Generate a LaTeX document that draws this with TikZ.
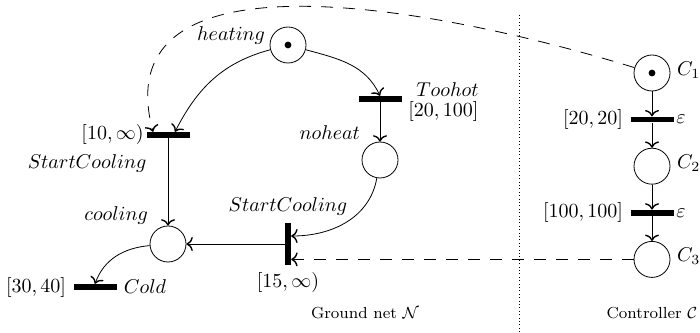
\documentclass[tikz,border=0pt]{standalone}
\usetikzlibrary{positioning, arrows.meta}
\tikzset{
    % Place style
    place/.style={
        circle,
        draw,
        minimum size=18pt,
        inner sep=0pt
    },
    % Transition style
    trans/.style={
        rectangle,
        fill=black,
        minimum width=21.5pt,
        minimum height=2.8pt,
        inner sep=0pt
    },
    % Vertical transition
    vtrans/.style={
        trans,
        minimum width=2.8pt,
        minimum height=21pt
    },
    % Flow arc style
    flow/.style={
        ->,
        >={Computer Modern Rightarrow[length=3.2pt, width=7pt, line width=0.7pt]}
    },
    % Controller link style
    ctrl/.style={flow, dash pattern=on 6pt off 5pt},
    % Net caption
    caption/.style={font=\footnotesize}
}
\begin{document}
\begin{tikzpicture}[x=0.5pt, y=0.5pt, node distance=12.5pt]
    \useasboundingbox (0,0) rectangle (700,332);

    % Ground net
    \node (heating) [place, label={[anchor=east]150:$heating$}] at (288,287) {};
    \node (start1) [trans, label={[inner sep=1pt]left:$[10,\infty)$},
        label={[inner sep=1pt, xshift=-8pt, yshift=-7pt]below left:$StartCooling$}] at (168,197) {};
    \node (toohot) [trans, label={[anchor=south west, inner sep=1pt, xshift=6pt]0:$Toohot$},
        label={[anchor=north west, inner sep=1pt, xshift=2pt]0:$[20,100]$}] at (380,233) {};
    \node (noheat) [place, label={above left:$noheat$}] at (380,172) {};
    \node (cooling) [place, label={above left:$cooling$}] at (168,88) {};
    \node (start2) [vtrans, label={above:$StartCooling$}, label={below:$[15,\infty)$}] at (288,88) {};
    \node (cold) [trans, label={left:$[30,40]$}, label={right:$Cold$}] at (95,45) {};
    \fill (heating) circle (1.7pt);

    \draw [flow] (heating) to[out=195, in=63] ([xshift=3.5pt]start1.north);
    \draw [flow] (heating) to[out=-15, in=115] (toohot.north);
    \draw [flow] (toohot) -- (noheat);
    \draw [flow] (noheat) to[out=-100, in=0] ([yshift=4pt]start2.east);
    \draw [flow] (start1) -- (cooling);
    \draw [flow] (start2) -- (cooling);
    \draw [flow] (cooling) to[out=185, in=70] (cold.north);

    % Controller
    \node (c1) [place, label={[anchor=west]10:$C_1$}] at (652,259) {};
    \node (eps1) [trans, below=of c1, label={left:$[20,20]$},
        label={[inner sep=1pt]right:$\varepsilon$}] {};
    \node (c2) [place, below=of eps1, label={[anchor=west]10:$C_2$}] {};
    \node (eps2) [trans, below=of c2, label={left:$[100,100]$},
        label={[inner sep=1pt]right:$\varepsilon$}] {};
    \node (c3) [place, below=of eps2, label={[anchor=west]10:$C_3$}] {};
    \fill (c1) circle (1.7pt);

    \draw [flow] (c1) -- (eps1);
    \draw [flow] (eps1) -- (c2);
    \draw [flow] (c2) -- (eps2);
    \draw [flow] (eps2) -- (c3);

    % Controller links
    \draw [ctrl] (c1) .. controls (434.5,325.7) and (103.3,387.5) .. ([xshift=-7.5pt]start1.north);
    \draw [ctrl] (c3) -- (c3 -| start2.east);

    % Separator and captions
    \draw [dash pattern=on 0.5pt off 1.2pt] (519,317) -- (519,0);
    \node (gnet) [caption] at (365,19) {Ground net $\mathcal{N}$};
    \node (cnet) [caption] at (652,19) {Controller $\mathcal{C}$};
\end{tikzpicture}
\end{document}
